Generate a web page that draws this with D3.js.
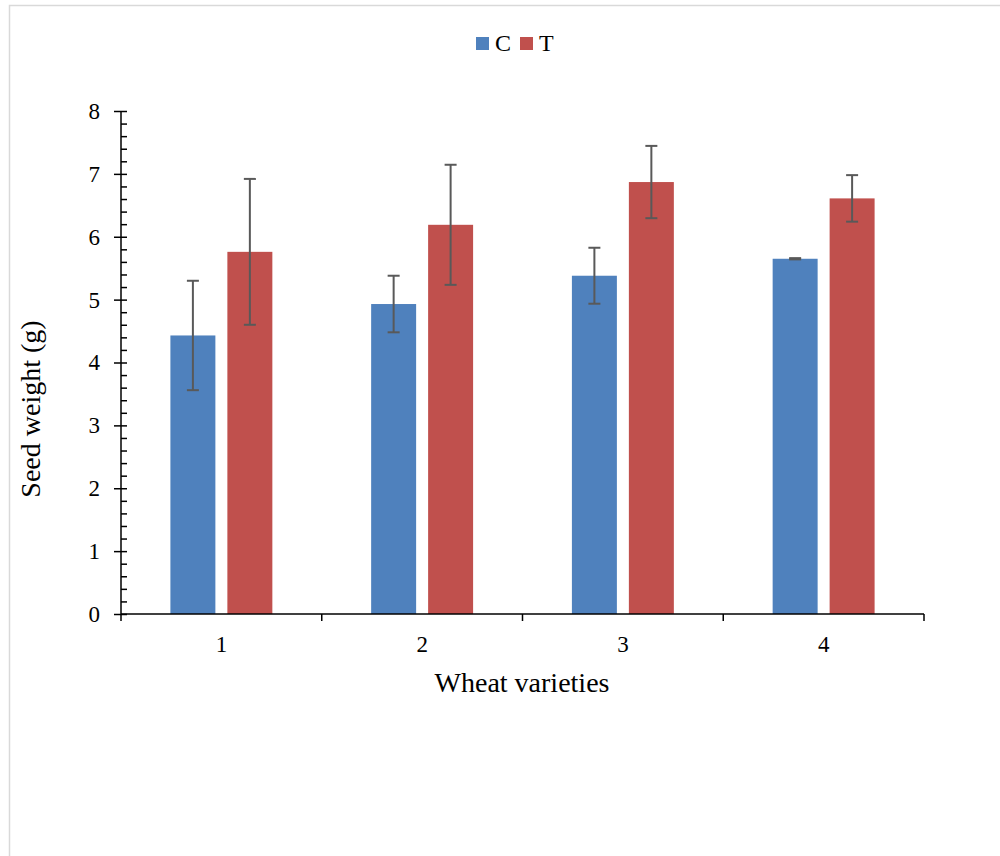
<!DOCTYPE html>
<html>
<head>
<meta charset="utf-8">
<script src="https://cdn.jsdelivr.net/npm/d3@7/dist/d3.min.js"></script>
<style>
  html, body { margin: 0; padding: 0; background: #fff; }
  svg { display: block; }
  text { font-family: "Liberation Serif", "DejaVu Serif", serif; fill: #000; }
</style>
</head>
<body>
<svg id="chart" width="1000" height="856"></svg>
<script>
// ---- data ----
const categories = ["1", "2", "3", "4"];
const seriesNames = ["C", "T"];
const valuesC = [4.43, 4.93, 5.38, 5.65];
const valuesT = [5.76, 6.19, 6.87, 6.61];
const errorsC = [0.87, 0.45, 0.445, 0.01];
const errorsT = [1.16, 0.955, 0.575, 0.37];
const yTicks = [0, 1, 2, 3, 4, 5, 6, 7, 8];
const colors = ["#4f81bd", "#c0504d"];
const xTitle = "Wheat varieties";
const yTitle = "Seed weight (g)";

const svg = d3.select("#chart");

// frame
svg.append("rect")
  .attr("x", 9.5).attr("y", 5.5).attr("width", 1000).attr("height", 900)
  .attr("fill", "none").attr("stroke", "#d9d9d9").attr("stroke-width", 1.5);

const mLeft = 121, mRight = 924, mTop = 111, mBottom = 614;

const y = d3.scaleLinear().domain([0, 8]).range([mBottom, mTop]);
const x0 = d3.scaleBand().domain(categories).range([mLeft, mRight]).paddingInner(0).paddingOuter(0);
const bw = x0.bandwidth();
const x1 = d3.scaleBand().domain(seriesNames).range([49.4, bw - 49.4]).paddingInner(0.2105).paddingOuter(0);

const rows = categories.map((c, i) => ({
  cat: c,
  items: [
    { s: "C", v: valuesC[i], e: errorsC[i], color: colors[0] },
    { s: "T", v: valuesT[i], e: errorsT[i], color: colors[1] }
  ]
}));

// bars
const g = svg.append("g");
const groups = g.selectAll("g.grp").data(rows).join("g")
  .attr("class", "grp")
  .attr("transform", d => `translate(${x0(d.cat)},0)`);

groups.selectAll("rect").data(d => d.items).join("rect")
  .attr("x", d => x1(d.s))
  .attr("y", d => y(d.v))
  .attr("width", x1.bandwidth())
  .attr("height", d => y(0) - y(d.v))
  .attr("fill", d => d.color);

// error bars
const capW = 6;
groups.selectAll("g.err").data(d => d.items).join("g")
  .attr("class", "err")
  .each(function(d) {
    const cx = x1(d.s) + x1.bandwidth() / 2;
    const sel = d3.select(this);
    const segs = [
      [cx, y(d.v + d.e), cx, y(d.v - d.e)],
      [cx - capW, y(d.v + d.e), cx + capW, y(d.v + d.e)],
      [cx - capW, y(d.v - d.e), cx + capW, y(d.v - d.e)]
    ];
    sel.selectAll("line").data(segs).join("line")
      .attr("x1", s => s[0]).attr("y1", s => s[1]).attr("x2", s => s[2]).attr("y2", s => s[3])
      .attr("stroke", "#595959").attr("stroke-width", 2);
  });

// y axis
const yAxis = d3.axisLeft(y).tickValues(yTicks).tickSize(7).tickPadding(14).tickFormat(d3.format("d"));
const yg = svg.append("g").attr("transform", `translate(${mLeft},0)`).call(yAxis);
yg.select(".domain").remove();
yg.selectAll(".tick line").attr("stroke", "#000").attr("stroke-width", 1.5);
yg.selectAll(".tick text").style("font-size", "23px").style("font-family", '"Liberation Serif", serif');

// minor ticks (right side)
const minor = d3.range(0, 8.0001, 0.2);
const yMinor = d3.axisRight(y).tickValues(minor).tickSize(6).tickFormat("");
const ym = svg.append("g").attr("transform", `translate(${mLeft},0)`).call(yMinor);
ym.select(".domain").remove();
ym.selectAll(".tick line").attr("stroke", "#000").attr("stroke-width", 1.5);

svg.append("line").attr("x1", mLeft).attr("x2", mLeft).attr("y1", mTop).attr("y2", mBottom)
  .attr("stroke", "#000").attr("stroke-width", 1.5);

// x axis
const xg = svg.append("g").attr("transform", `translate(0,${mBottom})`)
  .call(d3.axisBottom(x0).tickSize(0).tickPadding(22));
xg.select(".domain").remove();
xg.selectAll(".tick text").style("font-size", "23px").style("font-family", '"Liberation Serif", serif');
const bounds = categories.map(c => x0(c)).concat([mRight]);
svg.append("g").selectAll("line").data(bounds).join("line")
  .attr("x1", d => d).attr("x2", d => d).attr("y1", mBottom).attr("y2", mBottom + 7)
  .attr("stroke", "#000").attr("stroke-width", 1.5);
svg.append("line").attr("x1", mLeft).attr("x2", mRight).attr("y1", mBottom).attr("y2", mBottom)
  .attr("stroke", "#000").attr("stroke-width", 1.5);

// axis titles
svg.append("text").attr("x", 522).attr("y", 692)
  .attr("text-anchor", "middle").style("font-size", "28px").text(xTitle);
svg.append("text").attr("transform", `translate(40,409) rotate(-90)`)
  .attr("text-anchor", "middle").style("font-size", "28px").text(yTitle);

// legend
const legendX = [476, 520];
const leg = svg.append("g").selectAll("g").data(seriesNames).join("g")
  .attr("transform", (d, i) => `translate(${legendX[i]},37)`);
leg.append("rect").attr("width", 13).attr("height", 13).attr("fill", (d, i) => colors[i]);
leg.append("text").attr("x", 19).attr("y", 14).style("font-size", "24px").text(d => d);
</script>
</body>
</html>
